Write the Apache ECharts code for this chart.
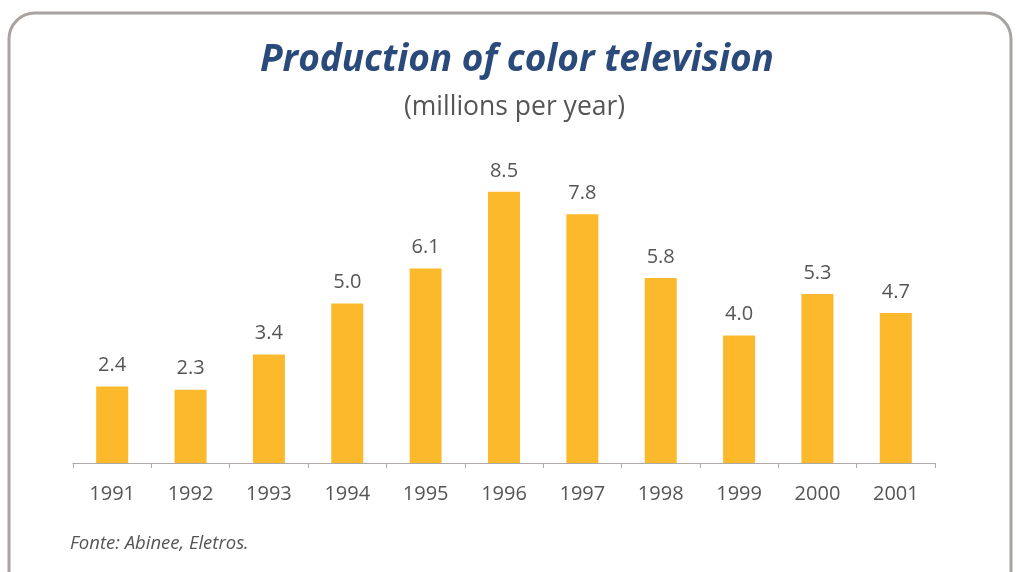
<!DOCTYPE html>
<html><head><meta charset="utf-8">
<script src="https://cdn.jsdelivr.net/npm/echarts@6/dist/echarts.min.js"></script>
<style>html,body{margin:0;padding:0;background:#fff}#c{width:1016px;height:572px}</style>
</head><body><div id="c"></div>
<script>
const years = ['1991','1992','1993','1994','1995','1996','1997','1998','1999','2000','2001'];
const production = [2.4, 2.3, 3.4, 5.0, 6.1, 8.5, 7.8, 5.8, 4.0, 5.3, 4.7];
const titleText = 'Production of color television';
const subtitleText = '(millions per year)';
const sourceText = 'Fonte: Abinee, Eletros.';

const chart = echarts.init(document.getElementById('c'));
chart.setOption({
  backgroundColor: '#ffffff',
  animation: false,
  title: [
    {text: titleText, left: 255, top: 37, textStyle: {fontFamily: 'Open Sans', fontStyle: 'italic', fontWeight: 'bold', fontSize: 37, color: '#2b4a7c'}},
    {text: subtitleText, left: 399, top: 89, textStyle: {fontFamily: 'Open Sans', fontWeight: 'normal', fontSize: 26.5, color: '#555555'}},
    {text: sourceText, left: 65, top: 529, textStyle: {fontFamily: 'Open Sans', fontStyle: 'italic', fontWeight: 'normal', fontSize: 18.5, color: '#555555'}}
  ],
  graphic: [{
    type: 'rect', shape: {x: 9, y: 13, width: 1002, height: 600, r: 26},
    style: {fill: 'none', stroke: '#a8a3a0', lineWidth: 3}, z: -1
  }],
  grid: {left: 73, right: 81, top: 144, bottom: 109},
  xAxis: {
    type: 'category', data: years,
    axisLine: {lineStyle: {color: '#b0aaa6', width: 1}},
    axisTick: {show: true, length: 5, lineStyle: {color: '#b0aaa6'}},
    axisLabel: {fontFamily: 'Open Sans', fontSize: 20, color: '#555555', margin: 21}
  },
  yAxis: {type: 'value', min: 0, max: 10, show: false, splitLine: {show: false}},
  series: [{
    type: 'bar', data: production, barWidth: 32,
    itemStyle: {color: '#fcb92c'},
    label: {show: true, position: 'top', distance: 11, fontFamily: 'Open Sans', fontSize: 20, color: '#555555',
      formatter: p => p.value.toFixed(1)}
  }]
});
</script></body></html>
